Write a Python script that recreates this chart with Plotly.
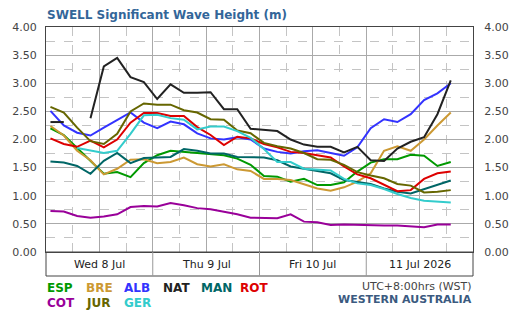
import pandas as pd
import plotly.graph_objects as go

# 3-hourly times, Wed 8 Jul 2026 01:00 (WST) onwards
times = pd.date_range("2026-07-08 01:00", periods=31, freq="3h")

ESP = [2.20, 2.08, 1.85, 1.62, 1.39, 1.42, 1.33, 1.58, 1.72, 1.80, 1.78, 1.76, 1.75, 1.72, 1.66, 1.55,
       1.35, 1.34, 1.25, 1.30, 1.19, 1.19, 1.24, 1.43, 1.59, 1.65, 1.65, 1.73, 1.71, 1.53, 1.60]
BRE = [2.24, 2.07, 1.80, 1.63, 1.38, 1.48, 1.64, 1.65, 1.58, 1.60, 1.68, 1.56, 1.52, 1.56, 1.47, 1.44,
       1.30, 1.30, 1.28, 1.20, 1.13, 1.09, 1.15, 1.25, 1.40, 1.80, 1.88, 1.80, 2.00, 2.25, 2.48]
ALB = [2.51, 2.25, 2.12, 2.07, 2.21, 2.35, 2.48, 2.30, 2.20, 2.32, 2.27, 2.11, 2.02, 2.00, 2.04, 2.00,
       1.84, 1.78, 1.75, 1.79, 1.81, 1.76, 1.71, 1.86, 2.20, 2.36, 2.31, 2.45, 2.70, 2.82, 3.00]
NAT = [2.31, 2.31, None, 2.38, 3.30, 3.45, 3.11, 3.02, 2.72, 2.98, 2.83, 2.83, 2.84, 2.54, 2.54, 2.19,
       2.17, 2.15, 2.00, 1.91, 1.87, 1.87, 1.77, 1.87, 1.63, 1.62, 1.84, 1.96, 2.04, 2.45, 3.05]
MAN = [1.61, 1.59, 1.53, 1.39, 1.62, 1.76, 1.58, 1.67, 1.68, 1.69, 1.83, 1.80, 1.75, 1.75, 1.69, 1.68,
       1.68, 1.63, 1.52, 1.48, 1.44, 1.40, 1.28, 1.25, 1.21, 1.13, 1.07, 1.04, 1.12, 1.19, 1.27]
ROT = [2.02, 1.92, 1.87, 1.98, 1.86, 2.00, 2.30, 2.47, 2.47, 2.42, 2.42, 2.22, 2.08, 1.90, 2.05, 2.02,
       1.92, 1.86, 1.78, 1.76, 1.72, 1.68, 1.52, 1.38, 1.31, 1.19, 1.08, 1.10, 1.30, 1.40, 1.43]
COT = [0.73, 0.72, 0.64, 0.61, 0.63, 0.67, 0.80, 0.82, 0.81, 0.87, 0.83, 0.78, 0.76, 0.72, 0.67, 0.61,
       0.61, 0.60, 0.67, 0.54, 0.53, 0.48, 0.49, 0.48, 0.47, 0.47, 0.47, 0.45, 0.44, 0.49, 0.49]
JUR = [2.58, 2.48, 2.21, 1.97, 1.92, 2.10, 2.50, 2.64, 2.62, 2.62, 2.52, 2.48, 2.36, 2.35, 2.16, 2.11,
       1.94, 1.88, 1.84, 1.76, 1.65, 1.64, 1.55, 1.42, 1.36, 1.31, 1.21, 1.18, 1.06, 1.07, 1.10]
GER = [None, None, 1.85, 1.80, 1.76, 1.80, 2.10, 2.43, 2.44, 2.38, 2.35, 2.18, 2.23, 2.23, 2.15, 2.03,
       1.83, 1.60, 1.60, 1.48, 1.46, 1.45, 1.30, 1.22, 1.19, 1.12, 1.03, 0.96, 0.91, 0.90, 0.88]

series_names = ["ESP", "BRE", "ALB", "NAT", "MAN", "ROT", "COT", "JUR", "GER"]
series_values = [ESP, BRE, ALB, NAT, MAN, ROT, COT, JUR, GER]
series_colors = ["#009900", "#cc9933", "#3333ff", "#222222", "#006666", "#dd0000", "#990099", "#666600", "#33cccc"]

day_labels = ["Wed 8 Jul", "Thu 9 Jul", "Fri 10 Jul", "11 Jul 2026"]
day_centres = ["2026-07-08 12:00", "2026-07-09 12:00", "2026-07-10 12:00", "2026-07-11 12:00"]
day_bounds = ["2026-07-09", "2026-07-10", "2026-07-11"]
y_ticks = [0, 0.5, 1.0, 1.5, 2.0, 2.5, 3.0, 3.5, 4.0]

FONT = "DejaVu Sans"
W, H = 521, 315
L, R, T, B = 42, 36, 27, 63
ph = H - T - B

def py(px):
    return (H - B - px) / ph

def pxx(px):
    return (px - L) / (W - L - R)

fig = go.Figure()
for name, vals, col in zip(series_names, series_values, series_colors):
    fig.add_trace(go.Scatter(x=times, y=vals, mode="lines", name=name,
                             line=dict(color=col, width=2), showlegend=False))
fig.add_trace(go.Scatter(x=[times[0]], y=[None], yaxis="y2", showlegend=False, hoverinfo="skip"))

axis_font = dict(family=FONT, size=11, color="#444444")
fig.update_layout(
    width=W, height=H,
    margin=dict(l=L, r=R, t=T, b=B),
    paper_bgcolor="white", plot_bgcolor="white",
    xaxis=dict(type="date", range=["2026-07-08", "2026-07-12"],
               dtick=12 * 3600 * 1000, tick0="2026-07-08",
               showticklabels=False, ticks="",
               showgrid=True, gridcolor="#aaaaaa", gridwidth=1,
               minor=dict(dtick=6 * 3600 * 1000, tick0="2026-07-08", showgrid=True,
                          gridcolor="#c4c4c4", griddash="dash", gridwidth=1),
               showline=True, linecolor="#444444", linewidth=1, mirror=True, zeroline=False),
    yaxis=dict(range=[0, 4], tickvals=y_ticks, tickformat=".2f",
               ticks="outside", ticklen=6, tickcolor="rgba(0,0,0,0)",
               tickfont=axis_font,
               showgrid=True, gridcolor="#aaaaaa", gridwidth=1,
               minor=dict(dtick=0.25, showgrid=True, gridcolor="#c4c4c4", griddash="dash"),
               showline=True, linecolor="#444444", linewidth=1, mirror=True, zeroline=False),
    yaxis2=dict(range=[0, 4], tickvals=y_ticks, tickformat=".2f", overlaying="y", side="right",
                ticks="outside", ticklen=8, tickcolor="rgba(0,0,0,0)",
                tickfont=axis_font, showgrid=False, zeroline=False, showline=False),
)

box_bottom = py(276)
shapes = [dict(type="rect", xref="paper", yref="paper", x0=0, x1=1, y0=box_bottom, y1=0,
               line=dict(color="#444444", width=1))]
for d in day_bounds:
    shapes.append(dict(type="line", xref="x", yref="paper", x0=d, x1=d, y0=box_bottom, y1=0,
                       line=dict(color="#999999", width=1)))
fig.update_layout(shapes=shapes)

ann = []
for lab, c in zip(day_labels, day_centres):
    ann.append(dict(x=c, xref="x", y=py(264), yref="paper", text=lab, showarrow=False,
                    xanchor="center", yanchor="middle", font=dict(family=FONT, size=11, color="#222222")))

ann.append(dict(x=0, xref="paper", y=py(15), yref="paper", text="<b>SWELL Significant Wave Height (m)</b>",
                showarrow=False, xanchor="left", yanchor="middle",
                font=dict(family=FONT, size=12, color="#336699")))

leg_x = [42, 82, 122, 162, 202, 242, 42, 82, 122]
leg_y = [288, 288, 288, 288, 288, 288, 303, 303, 303]
for name, col, lx, ly in zip(series_names, series_colors, leg_x, leg_y):
    ann.append(dict(x=pxx(lx), xref="paper", y=py(ly), yref="paper", text="<b>%s</b>" % name,
                    showarrow=False, xanchor="left", yanchor="middle",
                    font=dict(family=FONT, size=12, color=col)))

ann.append(dict(x=1, xref="paper", y=py(286), yref="paper", text="UTC+8:00hrs (WST)",
                showarrow=False, xanchor="right", yanchor="middle",
                font=dict(family=FONT, size=11, color="#444444")))
ann.append(dict(x=1, xref="paper", y=py(299), yref="paper", text="<b>WESTERN AUSTRALIA</b>",
                showarrow=False, xanchor="right", yanchor="middle",
                font=dict(family=FONT, size=11, color="#3b5a80")))
for a in ann:
    a["borderpad"] = 0
fig.update_layout(annotations=ann)

fig.write_html("out.html")
